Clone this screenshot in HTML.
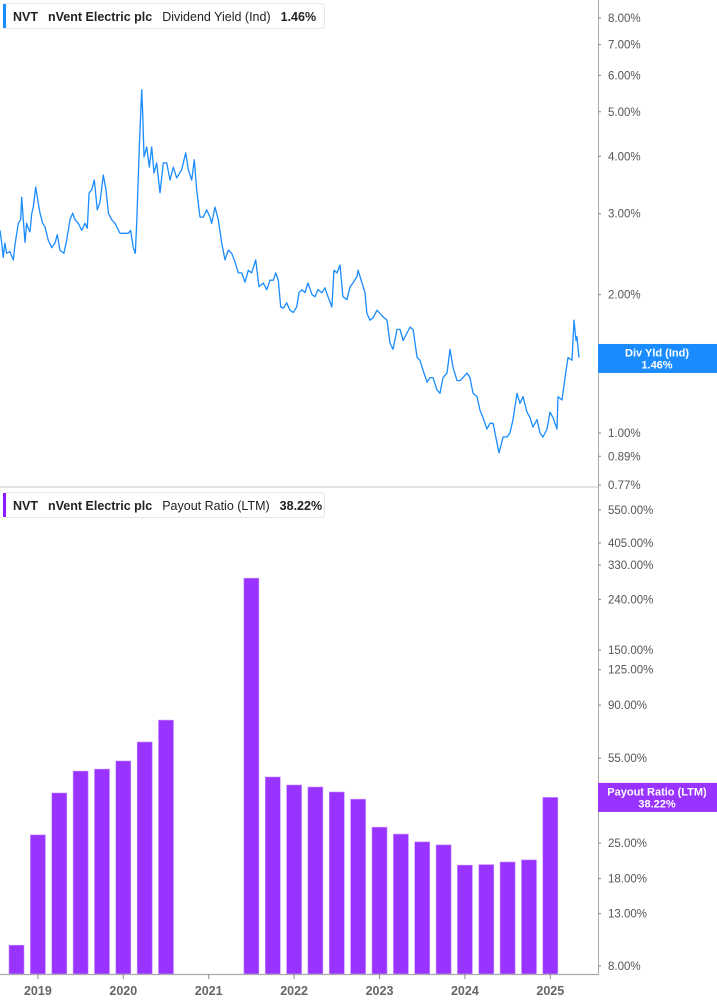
<!DOCTYPE html>
<html><head><meta charset="utf-8"><style>
html,body{margin:0;padding:0;background:#fff;width:717px;height:1005px;overflow:hidden;font-family:"Liberation Sans",sans-serif}
svg text{font-family:"Liberation Sans",sans-serif}
</style></head><body>
<svg id="chart" width="717" height="1005" viewBox="0 0 717 1005" xmlns="http://www.w3.org/2000/svg">
<g id="topPanel"></g>
<g id="botPanel"></g>
<g id="frame">
 <rect x="0" y="486" width="598" height="2" fill="#e4e4e4"/>
 <line x1="598.5" y1="0" x2="598.5" y2="975" stroke="#aaa" stroke-width="1"/>
 <line x1="0" y1="974.5" x2="598" y2="974.5" stroke="#aaa" stroke-width="1.2"/>
</g>
<g>
 <rect x="3.5" y="3.5" width="321" height="25" rx="3" fill="#fff" stroke="#e6e6e6"/>
 <rect x="3" y="4" width="3" height="24" fill="#1a8cff"/>
 <text x="13" y="21" font-size="12.5" fill="#222"><tspan font-weight="bold">NVT</tspan><tspan dx="10" font-weight="bold">nVent Electric plc</tspan><tspan dx="10">Dividend Yield (Ind)</tspan><tspan dx="10" font-weight="bold">1.46%</tspan></text>
</g>
<g>
 <rect x="3.5" y="492.5" width="321" height="25" rx="3" fill="#fff" stroke="#e6e6e6"/>
 <rect x="3" y="493" width="3" height="24" fill="#8c1aff"/>
 <text x="13" y="510" font-size="12.5" fill="#222"><tspan font-weight="bold">NVT</tspan><tspan dx="10" font-weight="bold">nVent Electric plc</tspan><tspan dx="10">Payout Ratio (LTM)</tspan><tspan dx="10" font-weight="bold">38.22%</tspan></text>
</g>
</svg>
<script>
const yieldYears=[2018.556,2018.576,2018.594,2018.614,2018.635,2018.673,2018.712,2018.731,2018.771,2018.799,2018.810,2018.829,2018.849,2018.868,2018.888,2018.908,2018.928,2018.946,2018.974,2019.005,2019.025,2019.056,2019.083,2019.121,2019.162,2019.200,2019.227,2019.258,2019.305,2019.337,2019.376,2019.408,2019.435,2019.473,2019.513,2019.552,2019.579,2019.599,2019.630,2019.661,2019.695,2019.727,2019.766,2019.798,2019.825,2019.864,2019.903,2019.961,2020.008,2020.058,2020.086,2020.117,2020.140,2020.157,2020.175,2020.187,2020.215,2020.227,2020.242,2020.274,2020.304,2020.332,2020.359,2020.391,2020.430,2020.468,2020.508,2020.547,2020.586,2020.625,2020.684,2020.731,2020.761,2020.801,2020.831,2020.859,2020.898,2020.937,2020.977,2021.015,2021.035,2021.074,2021.112,2021.152,2021.191,2021.230,2021.269,2021.307,2021.347,2021.386,2021.425,2021.464,2021.504,2021.550,2021.589,2021.639,2021.679,2021.718,2021.757,2021.785,2021.815,2021.843,2021.874,2021.913,2021.952,2021.991,2022.030,2022.057,2022.093,2022.128,2022.163,2022.210,2022.245,2022.279,2022.327,2022.361,2022.397,2022.443,2022.467,2022.502,2022.538,2022.572,2022.620,2022.654,2022.689,2022.737,2022.749,2022.795,2022.830,2022.853,2022.889,2022.924,2022.971,2023.006,2023.041,2023.088,2023.123,2023.158,2023.205,2023.240,2023.276,2023.322,2023.358,2023.393,2023.440,2023.474,2023.509,2023.557,2023.591,2023.626,2023.673,2023.708,2023.744,2023.790,2023.825,2023.861,2023.907,2023.943,2023.978,2024.025,2024.060,2024.095,2024.142,2024.177,2024.212,2024.259,2024.294,2024.330,2024.376,2024.399,2024.447,2024.493,2024.528,2024.563,2024.610,2024.645,2024.680,2024.727,2024.762,2024.797,2024.844,2024.879,2024.915,2024.961,2024.997,2025.032,2025.079,2025.090,2025.137,2025.172,2025.207,2025.254,2025.278,2025.301,2025.312,2025.336];
const yieldValues=[2.76,2.59,2.41,2.59,2.46,2.48,2.38,2.56,2.86,2.91,3.26,2.91,2.60,2.86,2.79,2.74,3.01,3.10,3.43,3.16,3.01,2.86,2.81,2.63,2.53,2.59,2.70,2.50,2.46,2.63,2.91,3.01,2.91,2.86,2.76,2.86,2.79,3.33,3.38,3.55,3.06,3.18,3.64,3.38,3.01,2.91,2.86,2.72,2.72,2.72,2.76,2.53,2.46,2.86,3.55,4.19,5.58,4.97,3.99,4.19,3.79,4.19,3.68,3.87,3.33,3.87,3.87,3.55,3.79,3.59,3.74,4.07,3.74,3.55,3.93,3.38,2.95,2.95,3.06,2.95,2.86,3.10,2.91,2.59,2.38,2.50,2.46,2.36,2.23,2.23,2.13,2.26,2.23,2.38,2.08,2.12,2.05,2.15,2.15,2.23,2.15,1.88,1.87,1.92,1.85,1.83,1.88,2.02,2.05,2.02,2.12,2.00,1.98,2.05,2.02,2.07,1.98,1.88,2.26,2.23,2.32,1.98,1.95,2.08,2.12,2.19,2.26,2.12,2.02,1.82,1.76,1.78,1.85,1.82,1.79,1.76,1.57,1.52,1.68,1.68,1.59,1.65,1.70,1.68,1.46,1.44,1.37,1.29,1.32,1.32,1.24,1.22,1.32,1.35,1.52,1.39,1.30,1.30,1.32,1.35,1.32,1.22,1.20,1.12,1.08,1.02,1.05,1.05,0.95,0.905,0.98,0.98,1.00,1.07,1.22,1.16,1.20,1.11,1.08,1.03,1.07,1.00,0.98,1.02,1.11,1.08,1.02,1.20,1.18,1.32,1.46,1.44,1.76,1.59,1.62,1.46];
const payoutQuarters=[2018.75,2019.0,2019.25,2019.5,2019.75,2020.0,2020.25,2020.5,2021.5,2021.75,2022.0,2022.25,2022.5,2022.75,2023.0,2023.25,2023.5,2023.75,2024.0,2024.25,2024.5,2024.75,2025.0];
const payoutValues=[9.7,27.0,39.8,48.8,49.7,53.6,63.9,78.3,292,46.2,42.9,42.1,40.2,37.6,29.0,27.2,25.3,24.6,20.4,20.5,21.0,21.4,38.22];
const yieldTicks=[8,7,6,5,4,3,2,1,0.89,0.77];
const payoutTicks=[550,405,330,240,150,125,90,55,25,18,13,8];
const yearTicks=[2019,2020,2021,2022,2023,2024,2025];
const latestYield=1.46, latestPayout=38.22;

const NS='http://www.w3.org/2000/svg';
const xOf=yr=>37.9+(yr-2019)*85.4;
const yTop=v=>433-Math.log(v)*199.6;
const yBot=v=>966-(Math.log(v)-Math.log(8))*107.8;
function mk(tag,attrs,parent){const e=document.createElementNS(NS,tag);for(const k in attrs)e.setAttribute(k,attrs[k]);parent.appendChild(e);return e;}
const topG=document.getElementById('topPanel'), botG=document.getElementById('botPanel'), svgEl=document.getElementById('chart');

let d='';
yieldYears.forEach((yr,i)=>{d+=(i?'L':'M')+xOf(yr).toFixed(1)+','+yTop(yieldValues[i]).toFixed(1);});
const line=mk('path',{d:d,fill:'none',stroke:'#1a8cff','stroke-width':1.3,'stroke-linejoin':'round'},topG);



payoutQuarters.forEach((q,i)=>{
 const cx=xOf(q), yv=yBot(payoutValues[i]);
 const b=mk('rect',{x:(cx-7.5).toFixed(1),y:yv.toFixed(1),width:15,height:(974-yv).toFixed(1),fill:'#9933ff',stroke:'#c58cff','stroke-width':0.6},botG);
 
 
});

yieldTicks.forEach(t=>{
 const y=yTop(t);
 const tk=mk('line',{x1:598,x2:601,y1:y,y2:y,stroke:'#888'},svgEl);
 
 
 const tx=mk('text',{x:608,y:y+4,'font-size':11.5,fill:'#555'},svgEl);
 tx.textContent=t.toFixed(2)+'%';
 
 
});
payoutTicks.forEach(t=>{
 const y=yBot(t);
 const tk=mk('line',{x1:598,x2:601,y1:y,y2:y,stroke:'#888'},svgEl);
 
 
 const tx=mk('text',{x:608,y:y+4,'font-size':11.5,fill:'#555'},svgEl);
 tx.textContent=t.toFixed(2)+'%';
 
 
});
yearTicks.forEach(yr=>{
 const x=xOf(yr);
 const tk=mk('line',{x1:x,x2:x,y1:974,y2:979,stroke:'#888'},svgEl);
 
 
 const tx=mk('text',{x:x,y:995,'font-size':12.5,'font-weight':'bold',fill:'#666','text-anchor':'middle'},svgEl);
 tx.textContent=yr;
 
 
});

function callout(y,color,l1,l2,name){
 const g=mk('g',{},svgEl);
 
 
 mk('rect',{x:598,y:y-14.5,width:119,height:29,fill:color},g);
 const a=mk('text',{x:657,y:y-2,'font-size':11,'font-weight':'bold',fill:'#fff','text-anchor':'middle'},g);a.textContent=l1;
 const b=mk('text',{x:657,y:y+10,'font-size':11,'font-weight':'bold',fill:'#fff','text-anchor':'middle'},g);b.textContent=l2;
}
callout(yTop(latestYield)+1,'#1a8cff','Div Yld (Ind)',latestYield.toFixed(2)+'%','yield-callout');
callout(yBot(latestPayout),'#9933ff','Payout Ratio (LTM)',latestPayout.toFixed(2)+'%','payout-callout');
</script>
</body></html>
